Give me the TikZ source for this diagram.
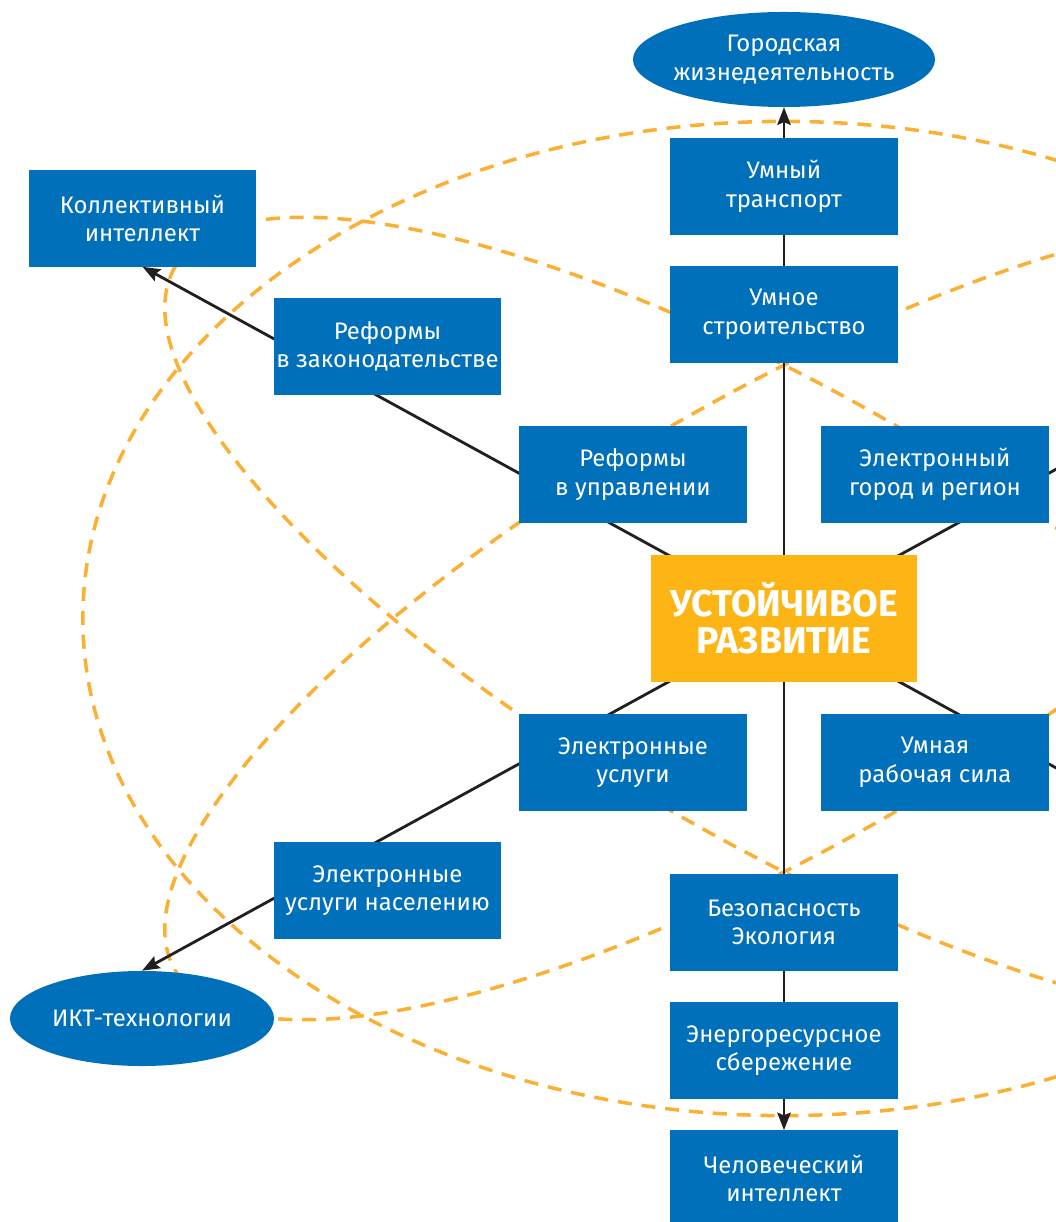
\documentclass[tikz,border=0pt]{standalone}
\usepackage{fontspec}
\setmainfont{Fira Sans}
\usetikzlibrary{arrows.meta,shapes.geometric,backgrounds}
\definecolor{boxblue}{HTML}{0070BA}
\definecolor{coreorange}{HTML}{FDB515}
\definecolor{dashorange}{HTML}{FBB034}
\definecolor{linegray}{HTML}{231F20}

\begin{document}
\begin{tikzpicture}[x=0.025cm, y=0.025cm,
  >={Stealth[length=12.5pt,width=9.5pt,inset=2pt]},
  box/.style={rectangle, fill=boxblue, text=white, align=center, inner sep=0pt,
    minimum width=5.675cm, minimum height=2.4cm, font=\fontsize{17}{20.3}\selectfont},
  oval/.style={ellipse, fill=boxblue, text=white, align=center, inner xsep=-14pt, inner ysep=0pt,
    minimum height=2.375cm, font=\fontsize{17}{20.3}\selectfont},
  core/.style={rectangle, fill=coreorange, text=white, align=center, inner sep=0pt,
    minimum width=6.625cm, minimum height=3.175cm, font=\fontsize{26.5}{26.3}\selectfont\bfseries},
  link/.style={line width=2pt, linegray},
  petal/.style={line width=2.5pt, dashorange, dash pattern=on 10pt off 7pt}]
\useasboundingbox (-784,618.5) rectangle (272,-603.5);

\node[core] (core) at (0,0) {УСТОЙЧИВОЕ\\РАЗВИТИЕ};
\node[box] (transport) at (0,432) {Умный\\транспорт};
\node[box] (stroit) at (0,304) {Умное\\строительство};
\node[oval, minimum width=7.55cm] (gorod) at (0,559) {Городская\\жизнедеятельность};
\node[box] (upravl) at (-151,144) {Реформы\\в управлении};
\node[box] (region) at (151,144) {Электронный\\город и регион};
\node[box] (uslugi) at (-151,-144) {Электронные\\услуги};
\node[box] (rabsila) at (151,-144) {Умная\\рабочая сила};
\node[box] (zakon) at (-396.5,272) {Реформы\\в законодательстве};
\node[box] (naselen) at (-396.5,-272) {Электронные\\услуги населению};
\node[box] (kollekt) at (-641.5,400) {Коллективный\\интеллект};
\node[oval, minimum width=6.6cm] (ikt) at (-642,-400) {ИКТ-технологии};
\node[box] (bezop) at (0,-304) {Безопасность\\Экология};
\node[box] (energo) at (0,-432) {Энергоресурсное\\сбережение};
\node[box] (chelov) at (0,-560) {Человеческий\\интеллект};
\coordinate (rup) at (641.5,352);
\coordinate (rdown) at (642,-352.5);

\begin{pgfonlayer}{background}
\draw[petal] (0,0) ellipse [x radius=17.525cm, y radius=12.425cm];
\draw[petal, rotate=-30] (0,0) ellipse [x radius=17.575cm, y radius=5.575cm];
\draw[petal, rotate=30] (0,0) ellipse [x radius=17.575cm, y radius=5.575cm];

\draw[link,->] (core.center) -- (gorod.south);
\draw[link,->] (core.center) -- (chelov.north);
\draw[link,->] (core.center) -- (kollekt.south);
\draw[link,->] (core.center) -- (ikt.north);
\draw[link] (core.center) -- (rup);
\draw[link] (core.center) -- (rdown);
\end{pgfonlayer}
\end{tikzpicture}
\end{document}
